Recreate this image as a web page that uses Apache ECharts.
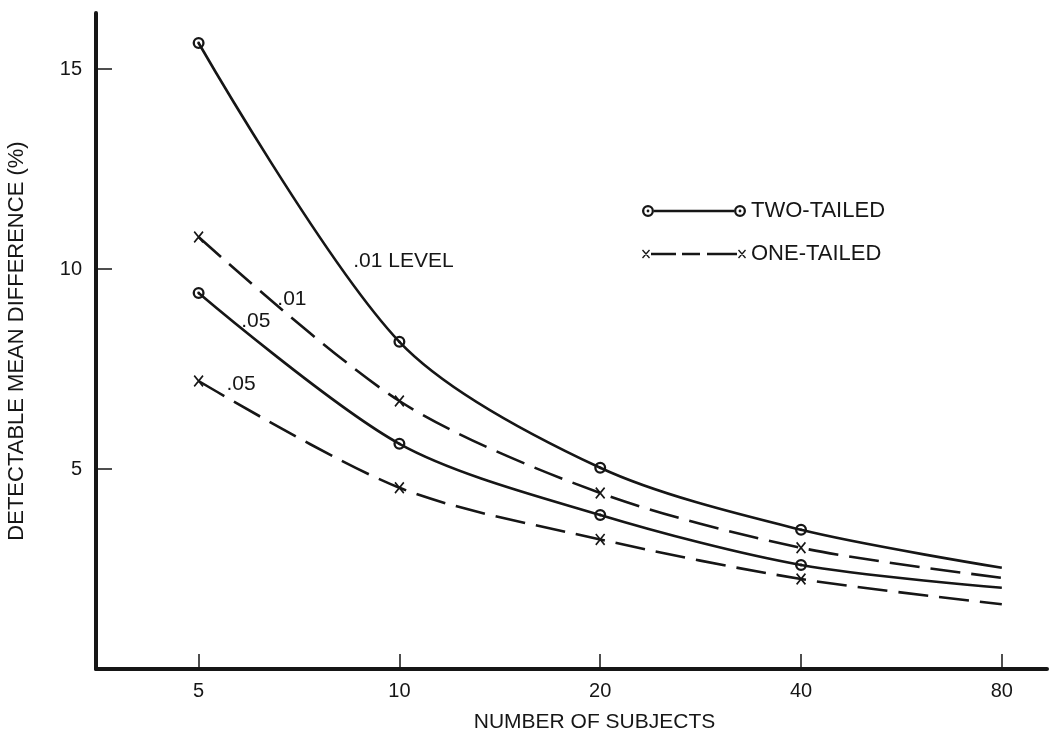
<!DOCTYPE html>
<html>
<head>
<meta charset="utf-8">
<title>Detectable mean difference vs number of subjects</title>
<script src="https://cdn.jsdelivr.net/npm/echarts@6/dist/echarts.min.js"></script>
<style>
  html, body { margin: 0; padding: 0; background: #ffffff; }
  #chart { width: 1051px; height: 738px; }
</style>
</head>
<body>
<div id="chart"></div>
<script>
// Number of subjects (plotted on a doubling scale)
const subjects = [5, 10, 20, 40, 80];

// Detectable mean difference (%) for each test
const twoTailed01 = [15.65, 8.18, 5.03, 3.48, 2.53];
const oneTailed01 = [10.8, 6.7, 4.4, 3.03, 2.28];
const twoTailed05 = [9.4, 5.63, 3.85, 2.6, 2.03];
const oneTailed05 = [7.2, 4.53, 3.24, 2.25, 1.62];

// Only the measured points carry a marker; the last value just extends the curve
const markedSubjects = [5, 10, 20, 40];

const yTicks = [5, 10, 15];
const xTicks = subjects;

// Curve annotations: [text, subjects, value]
const curveNotes = {
  twoTailed01: ['.01 LEVEL', 10.14, 10.2],
  oneTailed01: ['.01', 6.9, 9.25],
  twoTailed05: ['.05', 6.09, 8.7],
  oneTailed05: ['.05', 5.79, 7.12]
};

const INK = '#161616';
const FONT = '"Liberation Sans", Arial, Helvetica, sans-serif';

// Ring with a centre dot, and a small cross
const RING = 'path://M0,6A6,6 0 1,0 12,6A6,6 0 1,0 0,6Z' +
             'M2.3,6A3.7,3.7 0 1,1 9.7,6A3.7,3.7 0 1,1 2.3,6Z' +
             'M4.6,6A1.4,1.4 0 1,0 7.4,6A1.4,1.4 0 1,0 4.6,6Z';
const CROSS = 'path://M0,1.2L1.2,0L10,10.8L8.8,12Z M8.8,0L10,1.2L1.2,12L0,10.8Z';

// Legend keys: marker, line, marker
const RING_KEY = 'path://M0,6A6,6 0 1,0 12,6A6,6 0 1,0 0,6Z' +
                 'M2.3,6A3.7,3.7 0 1,1 9.7,6A3.7,3.7 0 1,1 2.3,6Z' +
                 'M4.6,6A1.4,1.4 0 1,0 7.4,6A1.4,1.4 0 1,0 4.6,6Z' +
                 'M12,4.7L92,4.7L92,7.3L12,7.3Z' +
                 'M92,6A6,6 0 1,0 104,6A6,6 0 1,0 92,6Z' +
                 'M94.3,6A3.7,3.7 0 1,1 101.7,6A3.7,3.7 0 1,1 94.3,6Z' +
                 'M96.6,6A1.4,1.4 0 1,0 99.4,6A1.4,1.4 0 1,0 96.6,6Z';
const CROSS_KEY = 'path://M0,1L1,0L8,8L7,9Z M7,0L8,1L1,9L0,8Z' +
                  'M9,3.3L34,3.3L34,5.7L9,5.7Z' +
                  'M40,3.3L58,3.3L58,5.7L40,5.7Z' +
                  'M65,3.3L95,3.3L95,5.7L65,5.7Z' +
                  'M96,1L97,0L104,8L103,9Z M103,0L104,1L97,9L96,8Z';

const log2 = Math.log2;

function buildData(values, symbol) {
  return subjects.map((n, i) => ({
    value: [log2(n), values[i]],
    symbol: markedSubjects.indexOf(n) >= 0 ? symbol : 'none'
  }));
}

function note(key) {
  const [text, n, v] = curveNotes[key];
  return {
    silent: true,
    symbol: 'circle',
    symbolSize: 1,
    itemStyle: { color: 'rgba(0,0,0,0)' },
    label: {
      show: true,
      position: 'inside',
      formatter: text,
      color: INK,
      fontFamily: FONT,
      fontSize: 21
    },
    data: [{ coord: [log2(n), v] }]
  };
}

function curve(name, key, values, dashed) {
  const isRing = name === 'TWO-TAILED';
  return {
    name: name,
    type: 'line',
    smooth: 0.3,
    data: buildData(values, isRing ? RING : CROSS),
    symbolSize: isRing ? 12 : [10, 12],
    showAllSymbol: true,
    lineStyle: {
      color: INK,
      width: 2.6,
      type: dashed ? [30, 11] : 'solid'
    },
    itemStyle: { color: INK, borderWidth: 0 },
    emphasis: { disabled: true },
    markPoint: note(key),
    z: 3
  };
}

const chart = echarts.init(document.getElementById('chart'), null, { renderer: 'canvas' });

const xMin = log2(5) - 0.511;
const xMax = log2(5) + 4.225;

chart.setOption({
  animation: false,
  backgroundColor: '#ffffff',
  textStyle: { fontFamily: FONT, color: INK },
  grid: {
    left: 96, right: 4, top: 13, bottom: 69,
    containLabel: false,
    outerBoundsMode: 'none'
  },
  legend: [
    {
      data: ['TWO-TAILED'],
      left: 637, top: 195,
      icon: RING_KEY,
      itemWidth: 104, itemHeight: 12,
      itemStyle: { color: INK, borderWidth: 0 },
      textStyle: { fontFamily: FONT, fontSize: 22, color: INK, padding: [0, 0, 0, 0] },
      selectedMode: false
    },
    {
      data: ['ONE-TAILED'],
      left: 637, top: 238,
      icon: CROSS_KEY,
      itemWidth: 104, itemHeight: 9,
      itemStyle: { color: INK, borderWidth: 0 },
      textStyle: { fontFamily: FONT, fontSize: 22, color: INK, padding: [0, 0, 0, 0] },
      selectedMode: false
    }
  ],
  xAxis: {
    type: 'value',
    min: xMin,
    max: xMax,
    name: 'NUMBER OF SUBJECTS',
    nameLocation: 'middle',
    nameGap: 43,
    nameTextStyle: { fontFamily: FONT, fontSize: 21, color: INK, padding: [0, 0, 0, 46] },
    axisLine: { show: true, lineStyle: { color: INK, width: 4 } },
    axisTick: {
      show: true, inside: true, length: 15,
      customValues: xTicks.map(log2),
      lineStyle: { color: INK, width: 1.5 }
    },
    axisLabel: {
      show: true,
      customValues: xTicks.map(log2),
      formatter: (v) => String(Math.round(Math.pow(2, v))),
      margin: 12,
      fontFamily: FONT, fontSize: 20, color: INK
    },
    splitLine: { show: false }
  },
  yAxis: {
    type: 'value',
    min: 0,
    max: 16.4,
    name: 'DETECTABLE MEAN DIFFERENCE (%)',
    nameLocation: 'middle',
    nameGap: 68,
    nameRotate: 90,
    nameTextStyle: { fontFamily: FONT, fontSize: 22, color: INK },
    axisLine: { show: true, lineStyle: { color: INK, width: 4 } },
    axisTick: {
      show: true, inside: true, length: 16,
      customValues: yTicks,
      lineStyle: { color: INK, width: 1.5 }
    },
    axisLabel: {
      show: true,
      customValues: yTicks,
      margin: 14,
      fontFamily: FONT, fontSize: 20, color: INK
    },
    splitLine: { show: false }
  },
  series: [
    curve('TWO-TAILED', 'twoTailed01', twoTailed01, false),
    curve('ONE-TAILED', 'oneTailed01', oneTailed01, true),
    curve('TWO-TAILED', 'twoTailed05', twoTailed05, false),
    curve('ONE-TAILED', 'oneTailed05', oneTailed05, true)
  ]
});
</script>
</body>
</html>
